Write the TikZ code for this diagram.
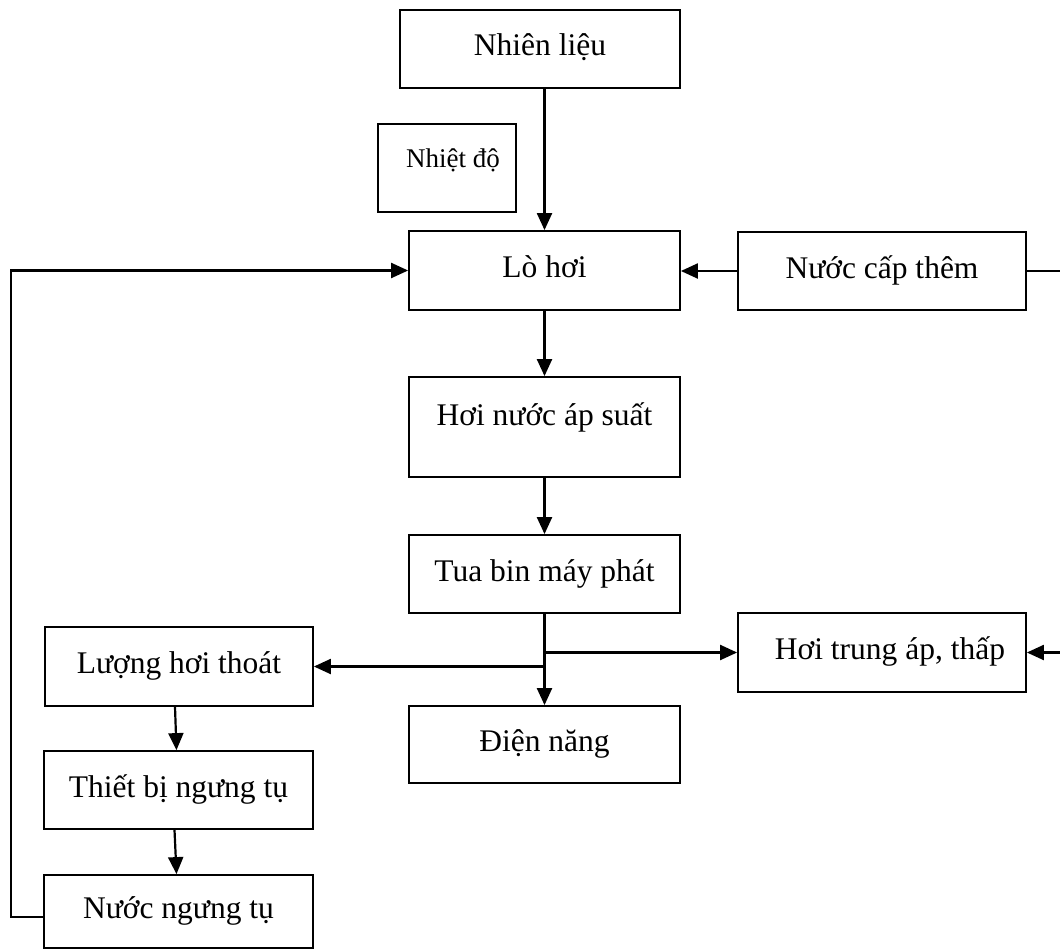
\documentclass[tikz,border=0pt]{standalone}
\usepackage{fontspec}
\setmainfont{Liberation Serif}
\usetikzlibrary{arrows.meta}
\begin{document}
\begin{tikzpicture}[x=1pt,y=-1pt,
  box/.style={draw, line width=1.8pt, inner sep=0pt, text height=22pt, text depth=8pt,
    font=\fontsize{31.5}{37}\selectfont},
  conn/.style={line width=2.2pt},
  arr/.style={conn, -{Triangle[length=17pt,width=15pt]}}]
\useasboundingbox (0,0) rectangle (1060,950);
% boxes
\node[box, minimum width=280pt, minimum height=78pt] (nl) at (540,49) {Nhiên liệu};
\node[box, minimum width=138pt, minimum height=88pt, text height=19pt, text depth=21pt,
  font=\fontsize{27}{32}\selectfont] (nd) at (447,168) {\hspace{12pt}Nhiệt độ};
\node[box, minimum width=271pt, minimum height=79pt] (lh) at (544.5,270.5) {Lò hơi};
\node[box, minimum width=288pt, minimum height=78pt] (nct) at (882,271) {Nước cấp thêm};
\node[box, minimum width=271pt, minimum height=100pt, text depth=26pt] (hn) at (544.5,427) {Hơi nước áp suất};
\node[box, minimum width=271pt, minimum height=78pt] (tb) at (544.5,574) {Tua bin máy phát};
\node[box, minimum width=288pt, minimum height=79pt] (hta) at (882,652.5) {\hspace{16pt}Hơi trung áp, thấp};
\node[box, minimum width=268pt, minimum height=79pt] (lht) at (179,666.5) {Lượng hơi thoát};
\node[box, minimum width=271pt, minimum height=77pt] (dn) at (544.5,744.5) {Điện năng};
\node[box, minimum width=269pt, minimum height=78pt] (tbn) at (178.5,790) {Thiết bị ngưng tụ};
\node[box, minimum width=269pt, minimum height=73pt] (nnt) at (178.5,911.5) {Nước ngưng tụ};
% edge coordinates
\coordinate (r1) at (1060,271);
\coordinate (r2) at (1060,652.5);
% connectors
\draw[arr] (nl.south -| lh.north) -- (lh.north);
\draw[arr] (nct.west) -- (nct.west -| lh.east);
\draw[conn] (nct.east) -- (r1);
\draw[arr] (lh.south) -- (hn.north);
\draw[arr] (hn.south) -- (tb.north);
\draw[arr] (tb.south) -- (dn.north);
\draw[arr] (tb.south |- hta.west) -- (hta.west);
\draw[arr] (tb.south |- lht.east) -- (lht.east);
\draw[arr] (r2) -- (hta.east);
\draw[arr] ([xshift=-4pt]lht.south) -- ([xshift=-2pt]tbn.north);
\draw[arr] ([xshift=-4pt]tbn.south) -- ([xshift=-2pt]nnt.north);
\draw[arr] ([yshift=-5.5pt]nnt.west) -- ++(-32,0) |- (lh.west);
\end{tikzpicture}
\end{document}
